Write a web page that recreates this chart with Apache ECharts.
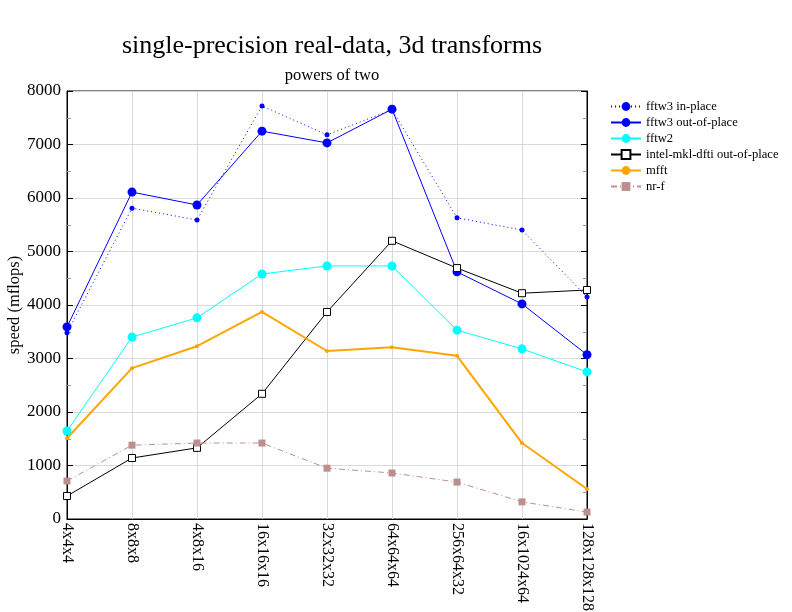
<!DOCTYPE html>
<html><head><meta charset="utf-8">
<script src="https://cdn.jsdelivr.net/npm/echarts@6/dist/echarts.min.js"></script>
<style>html,body{margin:0;padding:0;background:#fff}#c{width:792px;height:612px}</style>
</head><body><div id="c"></div>
<script>
const categories = ["4x4x4","8x8x8","4x8x16","16x16x16","32x32x32","64x64x64","256x64x32","16x1024x64","128x128x128"];
const fftw3InPlace = [3480,5810,5590,7720,7180,7650,5630,5400,4150];
const fftw3OutOfPlace = [3590,6110,5870,7250,7030,7660,4620,4020,3070];
const fftw2 = [1645,3400,3760,4580,4730,4730,3530,3180,2750];
const intelMkl = [430,1140,1330,2340,3870,5200,4690,4220,4280];
const mfft = [1510,2820,3230,3870,3140,3210,3050,1420,560];
const nrf = [710,1380,1420,1420,950,860,690,320,130];
const yTicks = [0,1000,2000,3000,4000,5000,6000,7000,8000];

const F = "Liberation Serif";
const chart = echarts.init(document.getElementById('c'));
function s(name, data, color, opts){
  return Object.assign({name, type:'line', data, color, itemStyle:{color}, lineStyle:{color, width:1}, symbol:'circle', symbolSize:5, animation:false}, opts);
}
chart.setOption({
  animation:false,
  title:{text:'single-precision real-data, 3d transforms', subtext:'powers of two', left:327, textAlign:'center', top:28,
    textStyle:{fontFamily:F, fontSize:26, fontWeight:'normal', color:'#000'},
    subtextStyle:{fontFamily:F, fontSize:16.5, color:'#000'}, itemGap:8},
  legend:{orient:'vertical', left:605, top:95, itemGap:3, itemWidth:30, itemHeight:11,
    textStyle:{fontFamily:F, fontSize:12.6, color:'#000'},
    data:['fftw3 in-place','fftw3 out-of-place','fftw2','intel-mkl-dfti out-of-place','mfft','nr-f']},
  grid:{left:67, top:91, width:520, height:428, show:true, borderColor:'#000', borderWidth:1, containLabel:false, outerBoundsMode:'none'},
  xAxis:{type:'category', data:categories, boundaryGap:false,
    axisLine:{lineStyle:{color:'#000'}}, axisTick:{show:false},
    axisLabel:{rotate:-90, fontFamily:F, fontSize:16, color:'#000', interval:0, margin:4},
    splitLine:{show:true, lineStyle:{color:'#d9d9d9'}}},
  yAxis:[{type:'value', min:0, max:8000, interval:1000, name:'speed (mflops)', nameLocation:'middle', nameGap:44, nameMoveOverlap:false,
    nameTextStyle:{fontFamily:F, fontSize:16.5, color:'#000'},
    axisLine:{show:true, lineStyle:{color:'#000'}}, axisTick:{show:true, inside:true, length:6, lineStyle:{color:'#000'}},
    minorTick:{show:true, splitNumber:2, length:4, lineStyle:{color:'#999'}},
    axisLabel:{fontFamily:F, fontSize:17, color:'#000', margin:6, formatter:v=>yTicks.includes(v)?String(v):''},
    splitLine:{show:true, lineStyle:{color:'#d9d9d9'}}},
   {type:'value', min:0, max:8000, interval:1000, position:'right',
    axisLine:{show:true, lineStyle:{color:'#000'}}, axisTick:{show:true, inside:true, length:6, lineStyle:{color:'#000'}},
    minorTick:{show:true, splitNumber:2, length:4, lineStyle:{color:'#999'}},
    axisLabel:{show:false}, splitLine:{show:false}}],
  series:[
    s('fftw3 in-place', fftw3InPlace, '#0000ff', {symbolSize:5, lineStyle:{color:'#0000ff', width:1, type:[1,3]}}),
    s('fftw3 out-of-place', fftw3OutOfPlace, '#0000ff', {symbolSize:9}),
    s('fftw2', fftw2, '#00ffff', {symbolSize:9}),
    s('intel-mkl-dfti out-of-place', intelMkl, '#000000', {symbol:'rect', symbolSize:7, itemStyle:{color:'#fff', borderColor:'#000', borderWidth:1}}),
    s('mfft', mfft, '#ffa500', {symbolSize:4, lineStyle:{color:'#ffa500', width:2}}),
    s('nr-f', nrf, '#bc8f8f', {symbol:'rect', symbolSize:7, lineStyle:{color:'#bc8f8f', width:1, type:[6,3,1,3]}})
  ]
});
</script></body></html>
